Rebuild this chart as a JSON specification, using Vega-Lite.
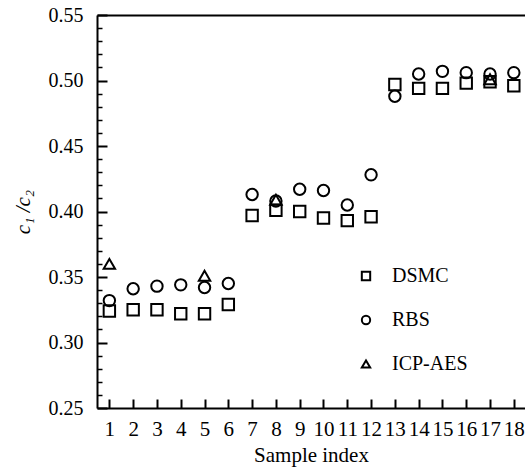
{
  "$schema": "https://vega.github.io/schema/vega-lite/v6.json",
  "width": 428,
  "height": 393,
  "autosize": {"type": "none"},
  "padding": {"left": 97, "top": 15, "right": 0, "bottom": 62},
  "background": "white",
  "config": {
    "view": {"stroke": null},
    "font": "Liberation Serif",
    "axis": {"labelFont": "Liberation Serif", "titleFont": "Liberation Serif", "labelColor": "black", "titleColor": "black", "domainColor": "black", "tickColor": "black", "grid": false}
  },
  "data": {
    "values": [
      {"sample": 1, "series": "DSMC", "value": 0.324},
      {"sample": 2, "series": "DSMC", "value": 0.325},
      {"sample": 3, "series": "DSMC", "value": 0.325},
      {"sample": 4, "series": "DSMC", "value": 0.322},
      {"sample": 5, "series": "DSMC", "value": 0.322},
      {"sample": 6, "series": "DSMC", "value": 0.329},
      {"sample": 7, "series": "DSMC", "value": 0.397},
      {"sample": 8, "series": "DSMC", "value": 0.401},
      {"sample": 9, "series": "DSMC", "value": 0.400},
      {"sample": 10, "series": "DSMC", "value": 0.395},
      {"sample": 11, "series": "DSMC", "value": 0.393},
      {"sample": 12, "series": "DSMC", "value": 0.396},
      {"sample": 13, "series": "DSMC", "value": 0.497},
      {"sample": 14, "series": "DSMC", "value": 0.494},
      {"sample": 15, "series": "DSMC", "value": 0.494},
      {"sample": 16, "series": "DSMC", "value": 0.498},
      {"sample": 17, "series": "DSMC", "value": 0.499},
      {"sample": 18, "series": "DSMC", "value": 0.496},
      {"sample": 1, "series": "RBS", "value": 0.332},
      {"sample": 2, "series": "RBS", "value": 0.341},
      {"sample": 3, "series": "RBS", "value": 0.343},
      {"sample": 4, "series": "RBS", "value": 0.344},
      {"sample": 5, "series": "RBS", "value": 0.342},
      {"sample": 6, "series": "RBS", "value": 0.345},
      {"sample": 7, "series": "RBS", "value": 0.413},
      {"sample": 8, "series": "RBS", "value": 0.408},
      {"sample": 9, "series": "RBS", "value": 0.417},
      {"sample": 10, "series": "RBS", "value": 0.416},
      {"sample": 11, "series": "RBS", "value": 0.405},
      {"sample": 12, "series": "RBS", "value": 0.428},
      {"sample": 13, "series": "RBS", "value": 0.488},
      {"sample": 14, "series": "RBS", "value": 0.505},
      {"sample": 15, "series": "RBS", "value": 0.507},
      {"sample": 16, "series": "RBS", "value": 0.506},
      {"sample": 17, "series": "RBS", "value": 0.505},
      {"sample": 18, "series": "RBS", "value": 0.506},
      {"sample": 1, "series": "ICP-AES", "value": 0.360},
      {"sample": 5, "series": "ICP-AES", "value": 0.351},
      {"sample": 8, "series": "ICP-AES", "value": 0.409},
      {"sample": 17, "series": "ICP-AES", "value": 0.501}
    ]
  },
  "layer": [
    {
      "mark": {"type": "point", "filled": false, "color": "black", "strokeWidth": 2, "opacity": 1, "size": 130},
      "encoding": {
        "x": {
          "field": "sample", "type": "quantitative",
          "scale": {"domain": [0.48, 18.47], "nice": false, "zero": false},
          "axis": {
            "orient": "bottom", "values": [1,2,3,4,5,6,7,8,9,10,11,12,13,14,15,16,17,18],
            "title": "Sample index", "titleFontSize": 21, "titleFontWeight": "normal", "titlePadding": 5,
            "labelFontSize": 21, "labelPadding": 19, "labelFlush": false, "labelOverlap": false,
            "tickSize": -9, "tickWidth": 2, "domainWidth": 2
          }
        },
        "y": {
          "field": "value", "type": "quantitative",
          "scale": {"domain": [0.25, 0.55], "nice": false, "zero": false},
          "axis": {
            "values": [0.25, 0.30, 0.35, 0.40, 0.45, 0.50, 0.55],
            "format": ".2f",
            "tickSize": -10, "tickWidth": 2, "domainWidth": 2,
            "labelFontSize": 20, "labelPadding": 24, "labelFlush": false, "labelOverlap": false,
            "title": "c₁ /c₂", "titleFontSize": 21, "titleFontStyle": "italic", "titleFontWeight": "normal", "titlePadding": 15
          }
        },
        "shape": {
          "field": "series", "type": "nominal",
          "scale": {"domain": ["DSMC", "RBS", "ICP-AES"], "range": ["square", "circle", "triangle-up"]},
          "legend": {
            "title": null, "orient": "none", "legendX": 259, "legendY": 251,
            "labelFontSize": 20, "labelFont": "Liberation Serif", "labelColor": "black",
            "symbolSize": 70, "symbolStrokeWidth": 2, "symbolStrokeColor": "black", "symbolFillColor": "transparent",
            "labelOffset": 16, "rowPadding": 24
          }
        }
      }
    },
    {
      "mark": {"type": "point", "opacity": 0},
      "encoding": {
        "x": {
          "field": "sample", "type": "quantitative",
          "axis": {"orient": "top", "labels": false, "ticks": false, "title": null, "domainWidth": 2}
        },
        "y": {
          "field": "value", "type": "quantitative",
          "axis": {
            "orient": "left",
            "values": [0.26,0.27,0.28,0.29,0.31,0.32,0.33,0.34,0.36,0.37,0.38,0.39,0.41,0.42,0.43,0.44,0.46,0.47,0.48,0.49,0.51,0.52,0.53,0.54],
            "labels": false, "domain": false, "title": null, "tickSize": -5, "tickWidth": 1.5
          }
        }
      }
    }
  ],
  "resolve": {"axis": {"x": "independent", "y": "independent"}}
}
